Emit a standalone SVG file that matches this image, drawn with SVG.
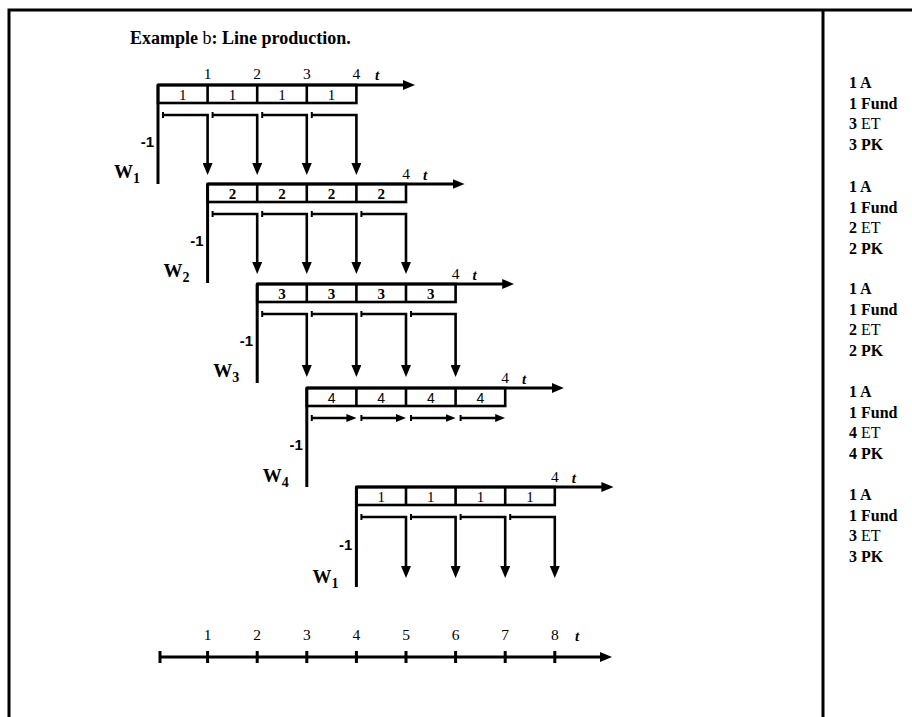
<svg xmlns="http://www.w3.org/2000/svg" width="912" height="717" viewBox="0 0 912 717">
<style>
.ln{fill:none;stroke:#000;stroke-width:2.6}
.tk{fill:none;stroke:#000;stroke-width:2}
.ax{fill:none;stroke:#000;stroke-width:3}
.frame{fill:none;stroke:#000;stroke-width:3}
.sf{font-family:'Liberation Serif','Times New Roman',Tinos,'DejaVu Serif',serif}
.num{font-size:15.5px;text-anchor:middle}
.tt{font-size:15px;font-weight:bold;font-style:italic;text-anchor:middle}
.cs{font-size:15px;text-anchor:middle}
.cb{font-size:15px;font-weight:bold;text-anchor:middle}
.ca{font-family:'Liberation Sans',Arial,sans-serif;font-size:14px;text-anchor:middle}
.m1{font-family:'Liberation Sans',Arial,sans-serif;font-size:15px;font-weight:bold;text-anchor:end}
.w{font-size:19px;font-weight:bold}
.ws{font-size:14px}
.title{font-size:18px;font-weight:bold}
.side{font-size:16px}
.b{font-weight:bold}
</style>
<defs>
<marker id="arr" viewBox="0 0 12 10" refX="1" refY="5" markerWidth="12" markerHeight="10" markerUnits="userSpaceOnUse" orient="auto"><path d="M0,0 L12,5 L0,10 z" fill="#000"/></marker>
<marker id="arrS" viewBox="0 0 10 8" refX="1" refY="4" markerWidth="10" markerHeight="8" markerUnits="userSpaceOnUse" orient="auto"><path d="M0,0 L10,4 L0,8 z" fill="#000"/></marker>
</defs>
<rect width="912" height="717" fill="#fff"/>
<g id="frame">
<path class="frame" d="M9,717 V10 H912"/>
<path class="frame" d="M823,10 V717"/>
</g>
<text class="sf title" x="130" y="44">Example <tspan font-weight="normal">b</tspan>: Line production.</text>

<g id="block1" class="sf">
<path class="ax" d="M158,85 H404" marker-end="url(#arr)"/>
<path class="ax" d="M158,85 V184"/>
<rect class="ln" x="158" y="85" width="198.4" height="18"/>
<path class="ln" d="M207.6,85 V103 M257.2,85 V103 M306.8,85 V103"/>
<text class="cs" x="182.8" y="99.5">1</text><text class="cs" x="232.4" y="99.5">1</text><text class="cs" x="282" y="99.5">1</text><text class="cs" x="331.6" y="99.5">1</text>
<text class="num" x="207.6" y="79">1</text><text class="num" x="257.2" y="79">2</text><text class="num" x="306.8" y="79">3</text><text class="num" x="356.4" y="79">4</text>
<text class="tt" x="377" y="80">t</text>
<text class="m1" x="154" y="147">-1</text>
<text class="w" x="114" y="178">W<tspan class="ws" dy="5">1</tspan></text>
</g>

<g id="block2" class="sf">
<path class="ax" d="M207.6,184 H453.6" marker-end="url(#arr)"/>
<path class="ax" d="M207.6,184 V283"/>
<rect class="ln" x="207.6" y="184" width="198.4" height="18"/>
<path class="ln" d="M257.2,184 V202 M306.8,184 V202 M356.4,184 V202"/>
<text class="cb" x="232.4" y="198.5">2</text><text class="cb" x="282" y="198.5">2</text><text class="cb" x="331.6" y="198.5">2</text><text class="cb" x="381.2" y="198.5">2</text>
<text class="num" x="406" y="179">4</text>
<text class="tt" x="425" y="180">t</text>
<text class="m1" x="203.6" y="246">-1</text>
<text class="w" x="163.6" y="277">W<tspan class="ws" dy="5">2</tspan></text>
</g>

<g id="block3" class="sf">
<path class="ax" d="M257.2,284 H503.2" marker-end="url(#arr)"/>
<path class="ax" d="M257.2,284 V383"/>
<rect class="ln" x="257.2" y="284" width="198.4" height="18"/>
<path class="ln" d="M306.8,284 V302 M356.4,284 V302 M406,284 V302"/>
<text class="cb" x="282" y="298.5">3</text><text class="cb" x="331.6" y="298.5">3</text><text class="cb" x="381.2" y="298.5">3</text><text class="cb" x="430.8" y="298.5">3</text>
<text class="num" x="455.6" y="279">4</text>
<text class="tt" x="474.6" y="280">t</text>
<text class="m1" x="253.2" y="346">-1</text>
<text class="w" x="213.2" y="377">W<tspan class="ws" dy="5">3</tspan></text>
</g>

<g id="block4" class="sf">
<path class="ax" d="M306.8,388 H552.8" marker-end="url(#arr)"/>
<path class="ax" d="M306.8,388 V487"/>
<rect class="ln" x="306.8" y="388" width="198.4" height="18"/>
<path class="ln" d="M356.4,388 V406 M406,388 V406 M455.6,388 V406"/>
<text class="ca" x="331.6" y="402.5">4</text><text class="ca" x="381.2" y="402.5">4</text><text class="ca" x="430.8" y="402.5">4</text><text class="ca" x="480.4" y="402.5">4</text>
<text class="num" x="505.2" y="383">4</text>
<text class="tt" x="524.2" y="384">t</text>
<text class="m1" x="302.8" y="450">-1</text>
<text class="w" x="262.8" y="482">W<tspan class="ws" dy="5">4</tspan></text>
</g>

<g id="block5" class="sf">
<path class="ax" d="M356.4,487 H602.4" marker-end="url(#arr)"/>
<path class="ax" d="M356.4,487 V587"/>
<rect class="ln" x="356.4" y="487" width="198.4" height="18"/>
<path class="ln" d="M406,487 V505 M455.6,487 V505 M505.2,487 V505"/>
<text class="cs" x="381.2" y="501.5">1</text><text class="cs" x="430.8" y="501.5">1</text><text class="cs" x="480.4" y="501.5">1</text><text class="cs" x="530" y="501.5">1</text>
<text class="num" x="554.8" y="482">4</text>
<text class="tt" x="573.8" y="483">t</text>
<text class="m1" x="352.4" y="550">-1</text>
<text class="w" x="312.4" y="583">W<tspan class="ws" dy="5">1</tspan></text>
</g>

<g id="connectors">
<path class="ln" d="M163,115 H207.6 V164" marker-end="url(#arr)"/>
<path class="ln" d="M212.6,115 H257.2 V164" marker-end="url(#arr)"/>
<path class="ln" d="M262.2,115 H306.8 V164" marker-end="url(#arr)"/>
<path class="ln" d="M311.8,115 H356.4 V164" marker-end="url(#arr)"/>
<path class="tk" d="M163,112 V118 M212.6,112 V118 M262.2,112 V118 M311.8,112 V118"/>

<path class="ln" d="M212.6,214 H257.2 V263" marker-end="url(#arr)"/>
<path class="ln" d="M262.2,214 H306.8 V263" marker-end="url(#arr)"/>
<path class="ln" d="M311.8,214 H356.4 V263" marker-end="url(#arr)"/>
<path class="ln" d="M361.4,214 H406 V263" marker-end="url(#arr)"/>
<path class="tk" d="M212.6,211 V217 M262.2,211 V217 M311.8,211 V217 M361.4,211 V217"/>

<path class="ln" d="M262.2,314 H306.8 V366" marker-end="url(#arr)"/>
<path class="ln" d="M311.8,314 H356.4 V366" marker-end="url(#arr)"/>
<path class="ln" d="M361.4,314 H406 V366" marker-end="url(#arr)"/>
<path class="ln" d="M411,314 H455.6 V366" marker-end="url(#arr)"/>
<path class="tk" d="M262.2,311 V317 M311.8,311 V317 M361.4,311 V317 M411,311 V317"/>

<path class="ln" d="M311.8,418 H347.4" marker-end="url(#arrS)"/>
<path class="ln" d="M361.4,418 H397" marker-end="url(#arrS)"/>
<path class="ln" d="M411,418 H446.6" marker-end="url(#arrS)"/>
<path class="ln" d="M460.6,418 H496.2" marker-end="url(#arrS)"/>
<path class="tk" d="M311.8,415 V421 M361.4,415 V421 M411,415 V421 M460.6,415 V421"/>

<path class="ln" d="M361.4,517 H406 V567" marker-end="url(#arr)"/>
<path class="ln" d="M411,517 H455.6 V567" marker-end="url(#arr)"/>
<path class="ln" d="M460.6,517 H505.2 V567" marker-end="url(#arr)"/>
<path class="ln" d="M510.2,517 H554.8 V567" marker-end="url(#arr)"/>
<path class="tk" d="M361.4,514 V520 M411,514 V520 M460.6,514 V520 M510.2,514 V520"/>
</g>

<g id="timeline" class="sf">
<path class="ax" d="M159,657 H601" marker-end="url(#arr)"/>
<path class="ax" d="M160,651 V663 M207.6,651 V663 M257.2,651 V663 M306.8,651 V663 M356.4,651 V663 M406,651 V663 M455.6,651 V663 M505.2,651 V663 M554.8,651 V663"/>
<text class="num" x="207.6" y="640">1</text><text class="num" x="257.2" y="640">2</text><text class="num" x="306.8" y="640">3</text><text class="num" x="356.4" y="640">4</text>
<text class="num" x="406" y="640">5</text><text class="num" x="455.6" y="640">6</text><text class="num" x="505.2" y="640">7</text><text class="num" x="554.8" y="640">8</text>
<text class="tt" x="577" y="641">t</text>
</g>

<g id="resources" class="sf side">
<text x="849" y="88"><tspan class="b">1 A</tspan></text>
<text x="849" y="108.5"><tspan class="b">1 Fund</tspan></text>
<text x="849" y="129"><tspan class="b">3</tspan> ET</text>
<text x="849" y="149.5"><tspan class="b">3 PK</tspan></text>

<text x="849" y="192"><tspan class="b">1 A</tspan></text>
<text x="849" y="212.5"><tspan class="b">1 Fund</tspan></text>
<text x="849" y="233"><tspan class="b">2</tspan> ET</text>
<text x="849" y="253.5"><tspan class="b">2 PK</tspan></text>

<text x="849" y="294"><tspan class="b">1 A</tspan></text>
<text x="849" y="314.5"><tspan class="b">1 Fund</tspan></text>
<text x="849" y="335"><tspan class="b">2</tspan> ET</text>
<text x="849" y="355.5"><tspan class="b">2 PK</tspan></text>

<text x="849" y="397"><tspan class="b">1 A</tspan></text>
<text x="849" y="417.5"><tspan class="b">1 Fund</tspan></text>
<text x="849" y="438"><tspan class="b">4</tspan> ET</text>
<text x="849" y="458.5"><tspan class="b">4 PK</tspan></text>

<text x="849" y="500"><tspan class="b">1 A</tspan></text>
<text x="849" y="520.5"><tspan class="b">1 Fund</tspan></text>
<text x="849" y="541"><tspan class="b">3</tspan> ET</text>
<text x="849" y="561.5"><tspan class="b">3 PK</tspan></text>
</g>
</svg>
